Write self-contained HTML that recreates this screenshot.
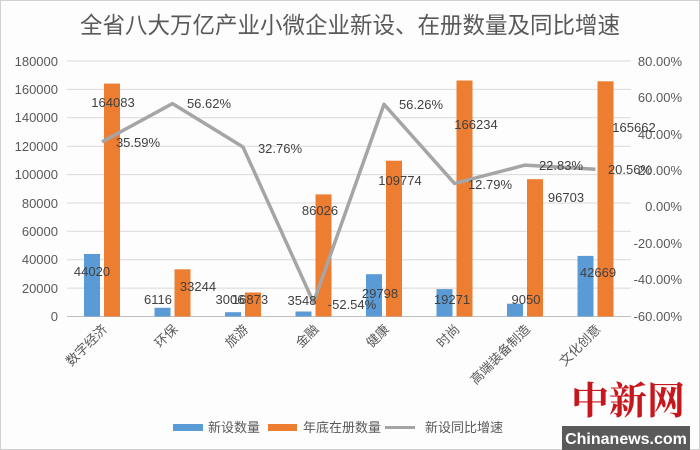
<!DOCTYPE html>
<html><head><meta charset="utf-8"><style>
html,body{margin:0;padding:0;background:#fff;}
svg{display:block;font-family:"Liberation Sans","Noto Sans CJK SC",sans-serif;}
</style></head><body>
<svg width="700" height="450" viewBox="0 0 700 450">
<rect x="0" y="0" width="700" height="450" fill="#fdfdfd"/>
<rect x="0.5" y="0.5" width="699" height="449" fill="none" stroke="#d0d0d0"/>
<text x="350" y="33" text-anchor="middle" font-size="23" fill="#595959" textLength="540" lengthAdjust="spacingAndGlyphs">全省八大万亿产业小微企业新设、在册数量及同比增速</text>
<g stroke="#d9d9d9" stroke-width="1">
<line x1="67" x2="631" y1="61" y2="61"/><line x1="67" x2="631" y1="89.4" y2="89.4"/>
<line x1="67" x2="631" y1="117.8" y2="117.8"/><line x1="67" x2="631" y1="146.2" y2="146.2"/>
<line x1="67" x2="631" y1="174.6" y2="174.6"/><line x1="67" x2="631" y1="203" y2="203"/>
<line x1="67" x2="631" y1="231.3" y2="231.3"/><line x1="67" x2="631" y1="259.7" y2="259.7"/>
<line x1="67" x2="631" y1="288.1" y2="288.1"/><line x1="67" x2="631" y1="316.5" y2="316.5" stroke="#bfbfbf"/>
</g>
<g font-size="13" fill="#595959" text-anchor="end">
<text x="58" y="66">180000</text><text x="58" y="94">160000</text><text x="58" y="122">140000</text>
<text x="58" y="151">120000</text><text x="58" y="179">100000</text><text x="58" y="208">80000</text>
<text x="58" y="236">60000</text><text x="58" y="264">40000</text><text x="58" y="293">20000</text>
<text x="58" y="321">0</text>
</g>
<g font-size="13" fill="#595959" text-anchor="end">
<text x="682" y="66">80.00%</text><text x="682" y="102">60.00%</text><text x="682" y="139">40.00%</text>
<text x="682" y="175">20.00%</text><text x="682" y="211">0.00%</text><text x="682" y="248">-20.00%</text>
<text x="682" y="284">-40.00%</text><text x="682" y="321">-60.00%</text>
</g>
<!-- bars: center c=102+70.5i, blue c-18..c-2, orange c+2..c+18 -->
<g fill="#5b9bd5">
<rect x="84" y="254" width="16" height="62.5"/>
<rect x="154.5" y="307.8" width="16" height="8.7"/>
<rect x="225" y="312.2" width="16" height="4.3"/>
<rect x="295.5" y="311.5" width="16" height="5"/>
<rect x="366" y="274.2" width="16" height="42.3"/>
<rect x="436.5" y="289.1" width="16" height="27.4"/>
<rect x="507" y="303.7" width="16" height="12.8"/>
<rect x="577.5" y="255.9" width="16" height="60.6"/>
</g>
<g fill="#ed7d31">
<rect x="104" y="83.6" width="16" height="232.9"/>
<rect x="174.5" y="269.3" width="16" height="47.2"/>
<rect x="245" y="292.5" width="16" height="24"/>
<rect x="315.5" y="194.4" width="16" height="122.1"/>
<rect x="386" y="160.7" width="16" height="155.8"/>
<rect x="456.5" y="80.5" width="16" height="236"/>
<rect x="527" y="179.2" width="16" height="137.3"/>
<rect x="597.5" y="81.3" width="16" height="235.2"/>
</g>
<polyline points="102,141.9 172.5,103.6 243,147 313.5,302.4 384,104.3 454.5,183.4 525,165.1 595.5,169.3" fill="none" stroke="#a5a5a5" stroke-width="3.5" stroke-linejoin="round"/>
<g font-size="13" fill="#404040" text-anchor="middle">
<text x="92" y="276">44020</text><text x="158" y="304">6116</text><text x="230" y="304">3006</text>
<text x="302" y="305">3548</text><text x="380" y="298">29798</text><text x="452" y="304">19271</text>
<text x="526" y="304">9050</text><text x="598" y="277">42669</text>
<text x="113" y="107">164083</text><text x="198" y="291">33244</text><text x="250" y="304">16873</text>
<text x="320" y="215">86026</text><text x="400" y="185">109774</text><text x="476" y="129">166234</text>
<text x="566" y="202">96703</text><text x="634" y="132">165662</text>
<text x="138" y="147">35.59%</text><text x="209" y="108">56.62%</text><text x="280" y="153">32.76%</text>
<text x="352" y="309">-52.54%</text><text x="421" y="109">56.26%</text><text x="490" y="189">12.79%</text>
<text x="561" y="170">22.83%</text><text x="630" y="174">20.56%</text>
</g>
<g font-size="13" fill="#595959" text-anchor="end">
<text transform="translate(108,330) rotate(-45)">数字经济</text>
<text transform="translate(178.5,330) rotate(-45)">环保</text>
<text transform="translate(249,330) rotate(-45)">旅游</text>
<text transform="translate(319.5,330) rotate(-45)">金融</text>
<text transform="translate(390,330) rotate(-45)">健康</text>
<text transform="translate(460.5,330) rotate(-45)">时尚</text>
<text transform="translate(531,330) rotate(-45)">高端装备制造</text>
<text transform="translate(601.5,330) rotate(-45)">文化创意</text>
</g>
<rect x="173" y="424" width="30" height="7" fill="#5b9bd5"/>
<text x="208" y="432" font-size="13" fill="#595959">新设数量</text>
<rect x="268" y="424" width="29" height="7" fill="#ed7d31"/>
<text x="303" y="432" font-size="13" fill="#595959">年底在册数量</text>
<line x1="385" x2="415" y1="427.5" y2="427.5" stroke="#a5a5a5" stroke-width="3"/>
<text x="425" y="432" font-size="13" fill="#595959">新设同比增速</text>
<text x="628" y="414" font-size="38" font-weight="bold" fill="#c8161d" text-anchor="middle" font-family="Noto Serif CJK SC, serif">中新网</text>
<rect x="562" y="426" width="128" height="24" fill="#5a5a5a"/>
<text x="626" y="444" font-size="16" font-weight="bold" fill="#fff" text-anchor="middle">Chinanews.com</text>
</svg>
</body></html>
